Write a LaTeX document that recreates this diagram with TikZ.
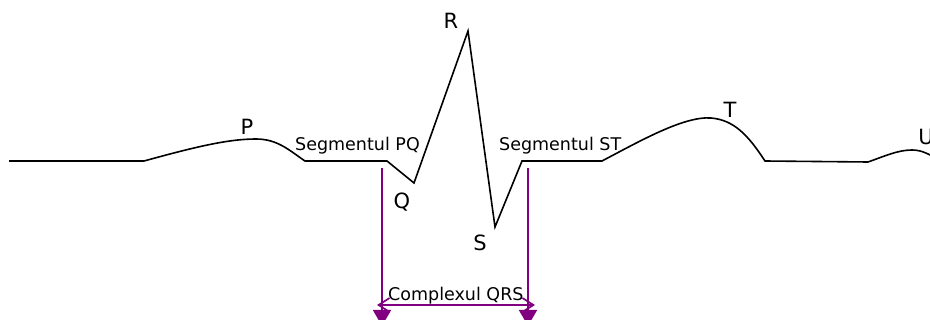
\documentclass[tikz,border=0pt]{standalone}
\usepackage{fontspec}
\setmainfont{DejaVu Sans}
\usetikzlibrary{arrows.meta}
\definecolor{qrspurple}{RGB}{128,0,128}
\tikzset{
  wave/.style={draw=black, line width=1.6pt, line join=miter},
  peaklabel/.style={inner sep=0pt, anchor=base, font=\fontsize{21}{24}\selectfont},
  seglabel/.style={inner sep=0pt, anchor=base west, font=\fontsize{17.5}{20}\selectfont},
  marker/.style={draw=qrspurple, line width=1.7pt},
}
\begin{document}
\begin{tikzpicture}[x=1pt, y=-1pt]
\useasboundingbox (0,0) rectangle (930,320);
\clip (0,0) rectangle (930,320);
% key points of the trace
\coordinate (start) at (9,161);
\coordinate (pstart) at (144,161);
\coordinate (ppeak) at (256,139);
\coordinate (pend) at (305,161);
\coordinate (qstart) at (387,161);
\coordinate (qpt) at (414,183);
\coordinate (rpt) at (468,31);
\coordinate (spt) at (495,227);
\coordinate (stend) at (522,161);
\coordinate (tstart) at (602,161);
\coordinate (tpeak) at (711,118);
\coordinate (tend) at (765,161);
\coordinate (ustart) at (868,162);
\coordinate (upeak) at (912,150);
\coordinate (uend) at (940,160);
% trace
\draw[wave] (start) -- (pstart)
  .. controls (195,147) and (228,139) .. (ppeak)
  .. controls (278,139) and (290,151) .. (pend)
  -- (qstart) -- (qpt) -- (rpt) -- (spt) -- (stend) -- (tstart)
  .. controls (640,141) and (684,116) .. (tpeak)
  .. controls (734,120) and (748,135) .. (tend)
  -- (ustart)
  .. controls (885,156) and (898,150) .. (upeak)
  .. controls (922,150) and (928,154) .. (uend);
% labels
\node[peaklabel] (lp) at (247,135) {P};
\node[peaklabel] (lr) at (451,29) {R};
\node[peaklabel] (lq) at (402,209) {Q};
\node[peaklabel] (ls) at (480,251) {S};
\node[peaklabel] (lt) at (730,118) {T};
\node[peaklabel] (lu) at (926,145) {U};
\node[seglabel] (spq) at (295,151) {Segmentul PQ};
\node[seglabel] (sst) at (499,151) {Segmentul ST};
\node[seglabel] (cqrs) at (388,301) {Complexul QRS};
% QRS markers
\coordinate (ltop) at (382,168);
\coordinate (lbot) at (382,326);
\coordinate (rtop) at (528,168);
\coordinate (rbot) at (528,326);
\coordinate (aleft) at (377,305);
\coordinate (aright) at (535,305);
\draw[marker, -{Triangle[length=16pt, width=18pt]}] (ltop) -- (lbot);
\draw[marker, -{Triangle[length=16pt, width=18pt]}] (rtop) -- (rbot);
\draw[marker, {Straight Barb[length=11pt, width=14pt]}-{Straight Barb[length=11pt, width=14pt]}] (aleft) -- (aright);
\end{tikzpicture}
\end{document}
